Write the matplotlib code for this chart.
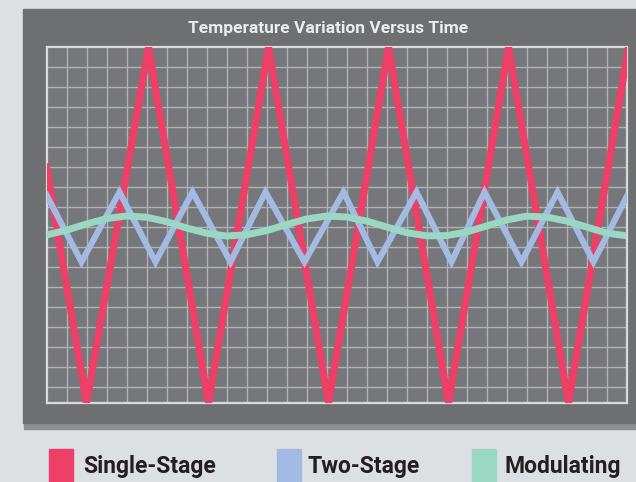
import matplotlib
matplotlib.use("Agg")
import matplotlib.pyplot as plt
from matplotlib.patches import Rectangle

# grid units: x = 0..29 columns, y = 0 (bottom) .. 17.8 (top)
single_x = [0, 2.0, 5.1, 8.1, 11.1, 14.1, 17.1, 20.1, 23.1, 26.1, 29.1]
single_y = [11.8, 0, 17.8, 0, 17.8, 0, 17.8, 0, 17.8, 0, 17.8]

two_x = [0, 1.75, 3.65, 5.45, 7.3, 9.2, 10.95, 12.9, 14.85, 16.55, 18.5,
         20.25, 21.9, 23.75, 25.55, 27.35, 29.0]
two_y = [10.4, 7.05, 10.55, 7.05, 10.55, 7.05, 10.55, 7.05, 10.55, 7.05, 10.55,
         7.05, 10.55, 7.05, 10.55, 7.05, 10.3]

mod_x = list(range(30))
mod_y = [8.40, 8.64, 8.95, 9.22, 9.35, 9.29, 9.07, 8.75, 8.49, 8.35,
         8.41, 8.62, 8.92, 9.20, 9.35, 9.30, 9.10, 8.80, 8.52, 8.36,
         8.37, 8.55, 8.85, 9.15, 9.34, 9.30, 9.10, 8.80, 8.50, 8.36]

labels = ["Single-Stage", "Two-Stage", "Modulating"]
colors = ["#ee3f66", "#a3bbe2", "#9bd8c3"]

W, H = 636, 482
fig = plt.figure(figsize=(W / 100, H / 100), dpi=100, facecolor="#dde0e3")

def px(x0, y0, w, h):
    # pixel box (top-left origin) -> figure fraction
    return (x0 / W, 1 - (y0 + h) / H, w / W, h / H)

# panel + shadow
sx, sy, sw, sh = px(24, 12, 640, 417)
fig.patches.append(Rectangle((sx, sy), sw, sh, transform=fig.transFigure,
                             color="#8b8e91", zorder=-2))
x0, y0, w0, h0 = px(23, 9, 640, 414)
fig.patches.append(Rectangle((x0, y0), w0, h0, transform=fig.transFigure,
                             color="#6e6f71", zorder=-1))

ax = fig.add_axes(px(46.5, 47, 580, 356))
ax.set_zorder(2)
ax.set_facecolor("#76777a")
ax.plot(single_x, single_y, color=colors[0], lw=5.2, solid_joinstyle="miter", zorder=3)
ax.plot(two_x, two_y, color=colors[1], lw=4.4, solid_joinstyle="miter", zorder=4)
ax.plot(mod_x, mod_y, color=colors[2], lw=5.0, solid_joinstyle="round",
        solid_capstyle="butt", zorder=5)

ax.set_xlim(0, 29)
ax.set_ylim(0, 17.8)
ax.set_xticks(range(1, 29))
ax.set_yticks([17.8 - k for k in range(1, 18)])
ax.grid(True, color="#b0b2b4", lw=1.0, zorder=1)
ax.set_axisbelow(True)
ax.tick_params(length=0, labelbottom=False, labelleft=False)
for s in ax.spines.values():
    s.set_color("#d9dadb")
    s.set_linewidth(1.6)

fig.text(328 / W, 1 - 28 / H, "Temperature Variation Versus Time", ha="center",
         va="center", color="#ececec", fontsize=12.5, fontweight="bold",
         family=["Roboto", "DejaVu Sans"], zorder=3)

# legend
leg_sq = [49, 277, 472]
leg_tx = [83, 307, 505]
for i in range(3):
    fig.patches.append(Rectangle(px(leg_sq[i], 449, 24, 40)[:2], 24 / W, 40 / H,
                                 transform=fig.transFigure, color=colors[i]))
    fig.text(leg_tx[i] / W, 1 - 466 / H, labels[i], ha="left", va="center",
             color="#231f20", fontsize=16.5, fontweight="bold",
             family=["Roboto", "DejaVu Sans"])

fig.savefig("out.png", dpi=100, facecolor=fig.get_facecolor())
